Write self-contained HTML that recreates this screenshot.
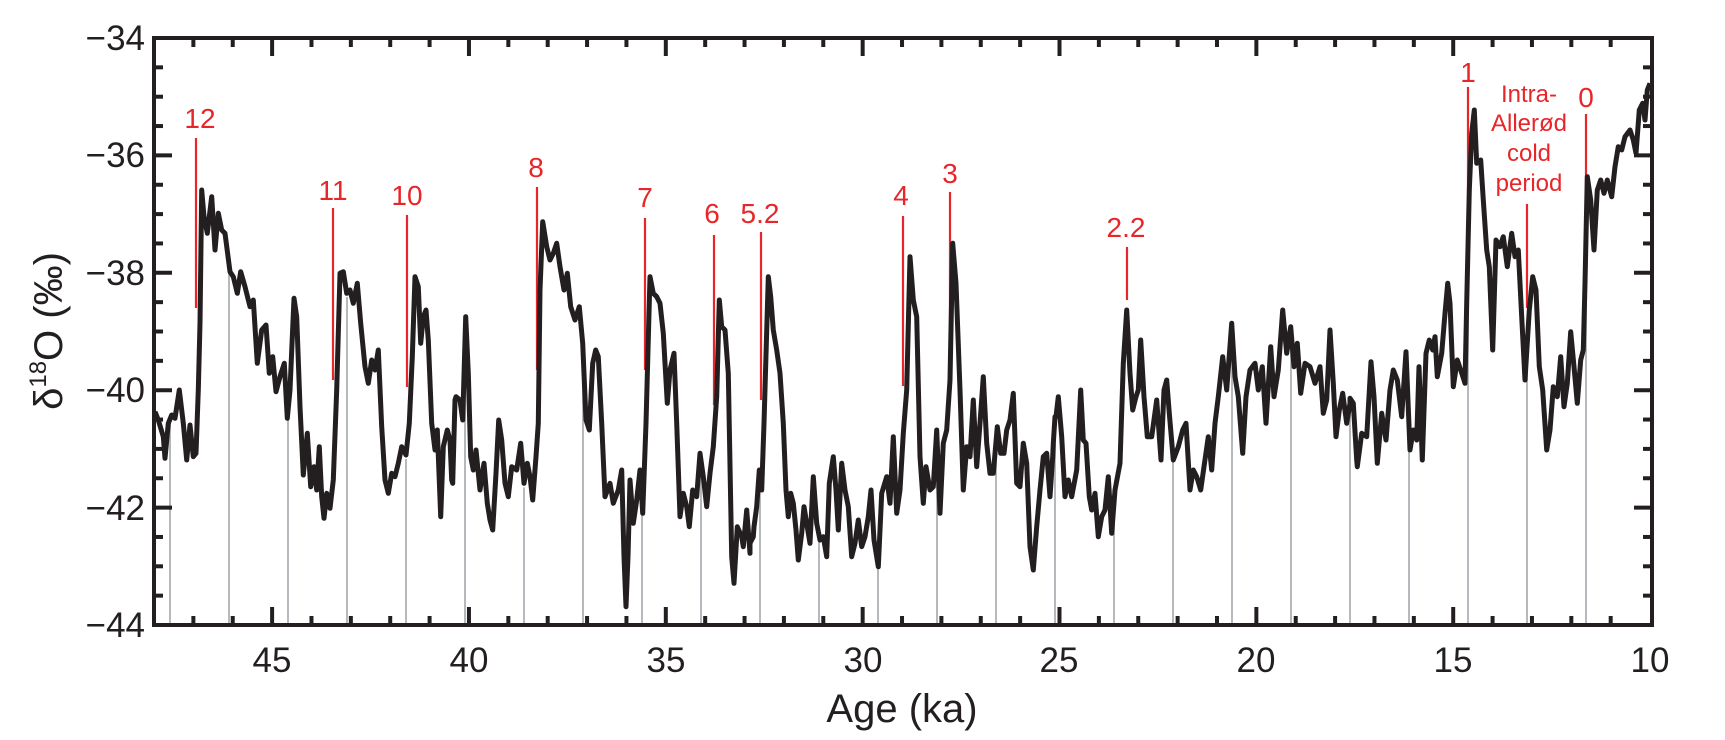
<!DOCTYPE html>
<html><head><meta charset="utf-8"><style>
html,body{margin:0;padding:0;background:#fff;}
svg{display:block;font-family:"Liberation Sans",sans-serif;}
</style></head><body>
<svg id="s" width="1725" height="740" viewBox="0 0 1725 740" xmlns="http://www.w3.org/2000/svg">
<g id="gray" stroke="#b5b8bd" stroke-width="2"></g>
<g id="red" stroke="#e8262a" stroke-width="2.2"></g>
<polyline id="curve" fill="none" stroke="#231f20" stroke-width="5" stroke-linejoin="round"/>
<g id="axes" stroke="#231f20" stroke-width="4" fill="none"></g>
<g fill="#231f20" font-size="35" text-anchor="end">
<text x="145" y="50">−34</text><text x="145" y="167">−36</text><text x="145" y="285">−38</text>
<text x="145" y="402">−40</text><text x="145" y="520">−42</text><text x="145" y="637">−44</text>
</g>
<g fill="#231f20" font-size="35" text-anchor="middle">
<text x="272" y="672">45</text><text x="469" y="672">40</text><text x="666" y="672">35</text>
<text x="863" y="672">30</text><text x="1059" y="672">25</text><text x="1256" y="672">20</text>
<text x="1453" y="672">15</text><text x="1650" y="672">10</text>
<text x="902" y="722" font-size="40">Age (ka)</text>
</g>
<text transform="translate(62,331) rotate(-90)" text-anchor="middle" font-size="40" fill="#231f20">δ<tspan font-size="24" dy="-16">18</tspan><tspan dy="16">O (‰)</tspan></text>
<g fill="#e8262a" font-size="28" text-anchor="middle">
<text x="200" y="128">12</text><text x="333" y="200">11</text><text x="407" y="205">10</text>
<text x="536" y="177">8</text><text x="645" y="207">7</text><text x="712" y="223">6</text>
<text x="760" y="223">5.2</text><text x="901" y="205">4</text><text x="950" y="183">3</text>
<text x="1126" y="237">2.2</text><text x="1468" y="82">1</text><text x="1586" y="107">0</text>
<g font-size="24"><text x="1529" y="102">Intra-</text><text x="1529" y="131">Allerød</text><text x="1529" y="161">cold</text><text x="1529" y="191">period</text></g>
</g>
</svg>
<script>
const Z=[
[150,90,[[15,965],[25,990],[40,1040],[45,1105],[55,1000],[65,975],[75,985],[88,900],[100,1000],[110,1110],[120,1005],[130,1100],[138,1090],[145,900],[150,700],[155,300],[162,380],[172,430],[185,320],[195,480],[205,370],[215,420],[225,430],[240,545],[250,560],[262,610],[272,545],[285,590],[300,650],[310,630],[322,820],[335,720],[348,705],[358,850],[368,800],[378,905],[390,860],[403,820],[412,985],[420,900],[432,625],[440,680],[450,950],[460,1155],[472,1030],[482,1190],[492,1130],[500,1200],[508,1070],[515,1220],[522,1285],[530,1210],[540,1255],[550,1170],[560,900],[570,550],[580,545],[590,610],[600,600],[610,640],[622,580],[632,700],[645,830],[655,880],[665,810],[675,840],[685,780],[695,1010],[705,1170],[715,1210],[725,1150],[735,1160],[745,1120],[755,1070],[768,1095],[778,1000],[787,800],[795,560],[805,590],[812,760],[820,680],[828,660],[835,750],[845,1000],[855,1080],[862,1020],[872,1280],[880,1070],[892,1020],[905,1170],[915,930]]],
[450,90,[[0,1050],[8,1180],[18,920],[30,930],[38,990],[47,680],[55,850],[62,1100],[70,1140],[78,1080],[90,1200],[102,1120],[112,1240],[120,1290],[128,1320],[138,1150],[146,990],[155,1050],[165,1180],[175,1220],[185,1130],[200,1140],[212,1060],[222,1180],[232,1120],[240,1160],[248,1230],[258,1100],[265,1000],[270,600],[278,395],[290,470],[300,510],[310,490],[320,460],[330,530],[342,600],[352,550],[362,650],[375,690],[388,650],[398,760],[408,990],[418,1020],[428,820],[437,780],[445,800],[455,1000],[465,1220],[480,1180],[490,1240],[505,1200],[515,1140],[522,1400],[528,1550],[534,1400],[540,1170],[550,1300],[560,1230],[570,1140],[578,1270],[588,1000],[600,560],[610,610],[620,620],[630,640],[640,730],[652,940],[660,840],[672,790],[680,1000],[690,1280],[700,1210],[710,1250],[718,1310],[728,1200],[740,1220],[750,1090],[760,1160],[770,1250],[780,1150],[790,1070],[800,920],[808,630],[815,710],[825,720],[835,850],[845,1400],[852,1480],[862,1310],[875,1340],[880,1370],[890,1260],[900,1390],[912,1310]]],
[750,90,[[0,1360],[10,1340],[20,1250],[28,1140],[35,1200],[42,1000],[55,560],[62,620],[70,720],[80,780],[90,850],[100,1000],[108,1200],[115,1280],[122,1210],[130,1240],[138,1320],[145,1410],[155,1330],[162,1250],[170,1300],[180,1360],[190,1160],[200,1300],[210,1350],[220,1340],[230,1400],[238,1180],[250,1100],[258,1200],[265,1320],[275,1120],[285,1200],[295,1250],[305,1400],[315,1360],[325,1290],[335,1370],[345,1340],[355,1280],[363,1200],[372,1350],[385,1430],[395,1210],[410,1160],[420,1240],[430,1040],[440,1270],[450,1200],[460,1030],[470,900],[480,500],[490,630],[500,680],[510,1100],[520,1240],[528,1130],[540,1200],[550,1190],[560,1020],[570,1270],[580,1060],[590,1020],[600,870],[608,460],[618,580],[630,900],[640,1200],[650,1070],[660,1100],[670,930],[680,1130],[690,1000],[700,860],[710,1060],[720,1150],[730,1150],[742,1010],[752,1090],[762,1090],[770,1020],[780,990],[790,910],[800,1180],[810,1190],[820,1060],[830,1120],[840,1370],[850,1440],[860,1310],[870,1200],[880,1100],[890,1090],[900,1220],[910,1060],[918,980]]],
[1050,90,[[0,1220],[8,1100],[15,980],[25,920],[35,1040],[45,1220],[55,1170],[65,1220],[80,1140],[92,900],[100,1050],[108,1060],[118,1220],[125,1260],[135,1210],[145,1340],[155,1280],[165,1260],[175,1160],[185,1330],[195,1200],[210,1120],[220,820],[230,660],[240,850],[248,960],[258,920],[265,900],[272,750],[282,920],[292,1040],[305,1040],[320,930],[333,1110],[342,900],[350,870],[358,970],[370,1110],[385,1070],[398,1020],[408,1000],[420,1200],[430,1140],[440,1160],[452,1200],[462,1130],[475,1040],[485,1140],[495,1000],[505,920],[518,800],[530,900],[545,700],[555,860],[565,920],[578,1090],[588,920],[600,840],[615,820],[625,900],[637,830],[648,1000],[662,770],[672,920],[685,840],[698,660],[710,790],[722,710],[732,830],[742,760],[752,910],[765,820],[780,830],[795,880],[810,830],[820,970],[830,930],[840,720],[850,880],[858,1040],[868,960],[878,910],[890,1000],[900,940],[910,940],[920,1110]]],
[1350,50,[[0,1045],[10,1060],[22,1250],[35,1150],[50,1160],[63,935],[72,1040],[82,1240],[95,1090],[108,1170],[120,1020],[130,960],[142,990],[155,1100],[168,905],[180,1200],[190,1140],[200,1170],[207,950],[217,1230],[228,910],[238,870],[248,900],[255,860],[262,980],[275,910],[285,790],[293,700],[300,760],[310,1010],[322,930],[332,960],[345,1000],[350,760],[358,420],[365,250],[373,180],[380,340],[392,330],[400,450],[410,600],[418,650],[428,900],[438,570],[450,590],[460,560],[472,650],[485,550],[495,620],[505,600],[515,800],[525,990],[538,780],[548,680],[558,720],[568,950],[578,1020],[590,1200],[600,1140],[610,1010],[622,1040],[632,920],[642,1070],[652,1000],[662,845],[672,950],[682,1060],[692,930],[700,900],[705,700],[712,380],[722,450],[732,600],[742,420],[752,390],[762,430],[772,390],[785,440],[795,350],[805,290],[815,300],[825,260],[840,240],[850,270],[858,310],[868,180],[878,160],[885,210],[892,120],[900,100]]]
];
let P=[];
for(const [ox,oy,pts] of Z) for(const [x,y] of pts) P.push([ox+x/3,oy+y/3]);
P.sort((a,b)=>a[0]-b[0]);
P[0][0]=155;
document.getElementById('curve').setAttribute('points',P.map(p=>p[0].toFixed(1)+','+p[1].toFixed(1)).join(' '));
function yAt(x){for(let i=1;i<P.length;i++){if(P[i][0]>=x){const a=P[i-1],b=P[i];const t=(x-a[0])/(b[0]-a[0]||1);return a[1]+t*(b[1]-a[1]);}}return P[P.length-1][1];}
const NS='http://www.w3.org/2000/svg';
function L(g,x1,y1,x2,y2){const l=document.createElementNS(NS,'line');l.setAttribute('x1',x1);l.setAttribute('y1',y1);l.setAttribute('x2',x2);l.setAttribute('y2',y2);document.getElementById(g).appendChild(l);}
for(let i=0;i<25;i++){const x=170+i*59.0;if(x>1640)break;L('gray',x,yAt(x)+4,x,625);}
[[196,138,308],[333,208,380],[407,215,387],[537,187,370],[645,218,370],[714,235,405],[761,232,400],[903,216,386],[950,192,375],[1127,247,300],[1468,87,190],[1527,204,308],[1586,114,193]].forEach(r=>L('red',r[0],r[1],r[0],r[2]));
const X0=154,X1=1652,T=38,B=625;
const r=document.createElementNS(NS,'rect');r.setAttribute('x',X0);r.setAttribute('y',T);r.setAttribute('width',X1-X0);r.setAttribute('height',B-T);document.getElementById('axes').appendChild(r);
const xs=v=>154+(48-v)*39.37;
for(let v=47;v>=11;v--){const x=xs(v);const len=v%5==0?18:9;L('axes',x,B,x,B-len);L('axes',x,T,x,T+len);}
for(let k=1;k<20;k++){const y=T+k*(B-T)/20;const len=k%4==0?18:9;L('axes',X0,y,X0+len,y);L('axes',X1,y,X1-len,y);}
</script>
</body></html>
